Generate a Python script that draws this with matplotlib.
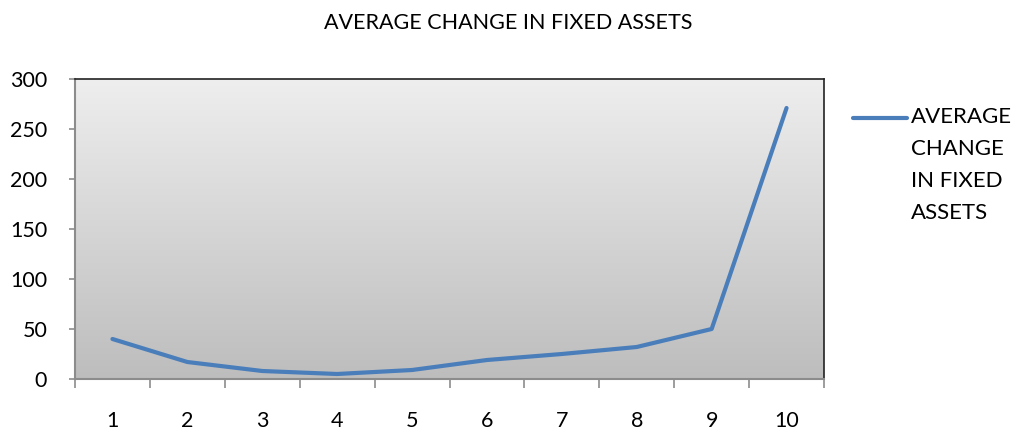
import numpy as np
import matplotlib.pyplot as plt
from matplotlib.lines import Line2D

plt.rcParams['font.family'] = ['Lato', 'DejaVu Sans']

periods = [1, 2, 3, 4, 5, 6, 7, 8, 9, 10]
avg_change = [40, 17, 8, 5, 9, 19, 25, 32, 50, 271]
y_ticks = [0, 50, 100, 150, 200, 250, 300]
series_name = "AVERAGE CHANGE IN FIXED ASSETS"

W, H = 1016, 432
fig = plt.figure(figsize=(W / 100, H / 100), dpi=100)
ax = fig.add_axes([75 / W, 1 - 379 / H, (824 - 75) / W, (379 - 79) / H])

# gradient background of the plot area
grad = np.linspace(0, 1, 256).reshape(-1, 1)
ax.imshow(grad, extent=[0, 1, 0, 1], transform=ax.transAxes, aspect='auto',
          cmap=plt.matplotlib.colors.LinearSegmentedColormap.from_list(
              'bg', ['#eeeeee', '#bdbdbd']), zorder=0)

ax.plot(periods, avg_change, color='#4a7ebb', lw=3.0,
        solid_capstyle='round', solid_joinstyle='round', zorder=3)

ax.set_xlim(0.5, len(periods) + 0.5)
ax.set_ylim(0, 300)
ax.set_yticks(y_ticks)
ax.set_xticks(periods)
ax.set_xticklabels([str(p) for p in periods])
ax.set_xticks(np.arange(0.5, len(periods) + 1), minor=True)

ax.tick_params(axis='x', which='major', length=0, pad=23, labelsize=15.5)
ax.tick_params(axis='x', which='minor', length=6.5, width=1.2, color='#8c8c8c')
ax.tick_params(axis='y', length=4, width=1.2, color='#8c8c8c', pad=16, labelsize=15.5)

for side in ['left', 'bottom']:
    ax.spines[side].set_color('#8c8c8c')
    ax.spines[side].set_linewidth(1.5)
for side in ['top', 'right']:
    ax.spines[side].set_color('#222222')
    ax.spines[side].set_linewidth(1.2)

fig.text(508 / W, 1 - 23 / H, series_name, ha='center', va='center', fontsize=15.5)

# legend
fig.add_artist(Line2D([853 / W, 907 / W], [1 - 118 / H, 1 - 118 / H],
                      color='#4a7ebb', lw=3.0, solid_capstyle='round'))
fig.text(911 / W, 1 - 107 / H, "AVERAGE\nCHANGE\nIN FIXED\nASSETS",
         ha='left', va='top', fontsize=16, linespacing=1.75)

fig.savefig('out.png', dpi=100)
